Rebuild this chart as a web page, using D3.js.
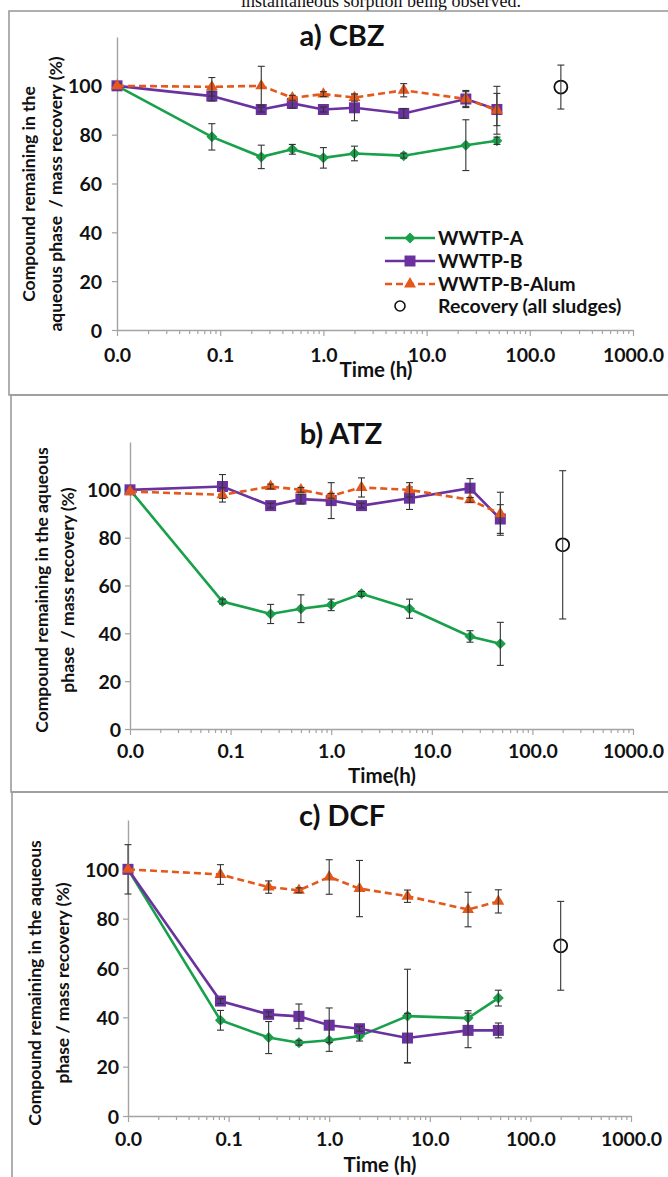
<!DOCTYPE html>
<html>
<head>
<meta charset="utf-8">
<script src="https://cdn.jsdelivr.net/npm/d3@7"></script>
<style>
  html, body { margin: 0; padding: 0; background: #fff; }
  svg { display: block; }
  text { font-family: Lato, "Open Sans", sans-serif; font-weight: bold; fill: #111; }
</style>
</head>
<body>
<script>
// ---------------- DATA ----------------
const times = [0.01, 0.083, 0.25, 0.5, 1, 2, 6, 24, 48];   // time 0 plotted at 0.01 on the log axis
const recoveryTime = [200];
const xTickValues = [0.01, 0.1, 1, 10, 100, 1000];
const yTickValues = [0, 20, 40, 60, 80, 100];
const seriesNames = ["WWTP-A", "WWTP-B", "WWTP-B-Alum"];
const recoveryName = "Recovery (all sludges)";

// a) CBZ
const cbzA        = [100, 79.1, 70.9, 74.0, 70.5, 72.3, 71.4, 75.7, 77.5];
const cbzAErr     = [0, 5.4, 4.8, 2.0, 4.2, 3.0, 1.0, 10.4, 1.5];
const cbzB        = [100, 95.8, 90.3, 92.8, 90.3, 91.0, 88.7, 94.6, 90.3];
const cbzBErr     = [1, 2, 1, 2, 1, 5.3, 2, 3.5, 6.6];
const cbzAlum     = [100, 99.6, 100, 95.1, 96.6, 95.2, 98.2, 94.6, 90.0];
const cbzAlumErr  = [0, 3.8, 8, 1, 1, 1.5, 2.7, 3, 9.8];
const cbzRec      = [99.5];
const cbzRecErr   = [9];

// b) ATZ
const atzA        = [100, 53.3, 48.1, 50.3, 51.9, 56.5, 50.3, 38.7, 35.6];
const atzAErr     = [0, 1, 4, 5.8, 2.4, 1, 4, 2.4, 9];
const atzB        = [100, 101.4, 93.4, 96.1, 95.5, 93.4, 96.5, 100.7, 87.8];
const atzBErr     = [0, 5, 1, 2, 7.5, 1, 4.7, 4, 6];
const atzAlum     = [99.3, 97.9, 101.4, 100, 97.5, 101, 100, 95.8, 90.0];
const atzAlumErr  = [0, 3, 1, 1, 1, 4, 3, 1, 9];
const atzRec      = [77];
const atzRecErr   = [31];

// c) DCF
const dcfA        = [100, 38.8, 31.8, 29.7, 30.7, 32.4, 40.5, 39.7, 47.8];
const dcfAErr     = [10, 4, 6.5, 1, 4.5, 2, 19, 3, 3.2];
const dcfB        = [100, 46.6, 41.2, 40.4, 36.8, 35.4, 31.6, 34.7, 34.7];
const dcfBErr     = [0, 1, 1, 5, 7, 1, 10, 7, 3];
const dcfAlum     = [100, 97.9, 92.8, 91.5, 96.9, 92.2, 89.1, 83.7, 87.0];
const dcfAlumErr  = [0, 4, 2.5, 1, 7, 11.4, 2.5, 7, 4.7];
const dcfRec      = [69];
const dcfRecErr   = [18];

// ---------------- LAYOUT / STYLE ----------------
const W = 668, H = 1177;
const colors = ["#18a04a", "#6a329f", "#e4591b"];
const axisColor = "#a3a3a3";
const errColor = "#333";

const panels = [
  { title: "a) CBZ", titleX: 342, titleY: 46,
    yLab: ["Compound remaining in the", "aqueous phase  / mass recovery (%)"], yLabX: [29, 56], yLabY: 194,
    xTitle: "Time (h)", xTitleX: 376, xTitleY: 377,
    box: [9, 11, 395], left: 117, right: 633, top: 37, bottom: 330, yLabelGap: 15, xLabelY: 362,
    data: [[cbzA, cbzAErr], [cbzB, cbzBErr], [cbzAlum, cbzAlumErr]], rec: [cbzRec, cbzRecErr], legend: true },
  { title: "b) ATZ", titleX: 341, titleY: 444,
    yLab: ["Compound remaining in the aqueous", "phase  / mass recovery (%)"], yLabX: [42, 68], yLabY: 590,
    xTitle: "Time(h)", xTitleX: 382, xTitleY: 783,
    box: [11, 395, 792], left: 130, right: 633, top: 442, bottom: 729, yLabelGap: 9, xLabelY: 758,
    data: [[atzA, atzAErr], [atzB, atzBErr], [atzAlum, atzAlumErr]], rec: [atzRec, atzRecErr], legend: false },
  { title: "c) DCF", titleX: 342, titleY: 826,
    yLab: ["Compound remaining in the aqueous", "phase / mass recovery (%)"], yLabX: [35, 63], yLabY: 983,
    xTitle: "Time (h)", xTitleX: 380, xTitleY: 1172,
    box: [12, 792, 1200], left: 128, right: 631, top: 820, bottom: 1116, yLabelGap: 9, xLabelY: 1146,
    data: [[dcfA, dcfAErr], [dcfB, dcfBErr], [dcfAlum, dcfAlumErr]], rec: [dcfRec, dcfRecErr], legend: false }
];

const svg = d3.select("body").append("svg").attr("width", W).attr("height", H);

// caption fragment at top
svg.append("text").attr("x", 381).attr("y", 7).attr("text-anchor", "middle")
  .style("font-family", "'Liberation Serif', 'Times New Roman', serif").style("font-weight", "normal")
  .style("font-size", "18px").text("instantaneous sorption being observed.");

// panel frames
panels.forEach(p => {
  svg.append("rect").attr("x", p.box[0]).attr("y", p.box[1])
    .attr("width", W + 20 - p.box[0]).attr("height", p.box[2] - p.box[1])
    .attr("fill", "none").attr("stroke", "#9c9c9c").attr("stroke-width", 1.6);
});

function markerPath(i) {
  if (i === 0) { const r = 5.5; return `M0,${-r}L${r},0L0,${r}L${-r},0Z`; }
  if (i === 1) { const s = 5.5; return `M${-s},${-s}H${s}V${s}H${-s}Z`; }
  return d3.symbol().type(d3.symbolTriangle).size(62)();
}

panels.forEach(p => {
  const g = svg.append("g");
  const x = d3.scaleLog().domain([0.01, 1000]).range([p.left, p.right]);
  const y = d3.scaleLinear().domain([0, 120]).range([p.bottom, p.top]);

  // minor ticks on x
  const minor = [];
  for (let e = -2; e < 3; e++) for (let m = 2; m <= 9; m++) minor.push(m * Math.pow(10, e));
  const xAxis = g.append("g").attr("transform", `translate(0,${p.bottom})`)
    .call(d3.axisBottom(x).tickValues(minor).tickSize(4).tickFormat(""));
  xAxis.select(".domain").remove();
  xAxis.selectAll("line").attr("stroke", axisColor).attr("stroke-width", 1.2);
  const xMajor = g.append("g").attr("transform", `translate(0,${p.bottom})`)
    .call(d3.axisBottom(x).tickValues(xTickValues).tickSize(6).tickSizeOuter(0)
      .tickFormat(d3.format(".1f")));
  xMajor.select(".domain").attr("stroke", axisColor).attr("stroke-width", 1.4);
  xMajor.selectAll("line").attr("stroke", axisColor).attr("stroke-width", 1.2);
  xMajor.selectAll("text").attr("y", p.xLabelY - p.bottom).attr("dy", 0)
    .style("font-size", "19.5px").style("fill", "#111");

  const yAxis = g.append("g").attr("transform", `translate(${p.left},0)`)
    .call(d3.axisLeft(y).tickValues(yTickValues).tickSize(5).tickSizeOuter(0).tickPadding(p.yLabelGap - 5));
  yAxis.select(".domain").attr("stroke", axisColor).attr("stroke-width", 1.4);
  yAxis.selectAll("line").attr("stroke", axisColor).attr("stroke-width", 1.2);
  yAxis.selectAll("text").attr("dy", "0.36em").style("font-size", "19.5px").style("fill", "#111");

  // titles
  g.append("text").attr("x", p.titleX).attr("y", p.titleY).attr("text-anchor", "middle")
    .style("font-size", "29px").text(p.title);
  g.append("text").attr("x", p.xTitleX).attr("y", p.xTitleY).attr("text-anchor", "middle")
    .style("font-size", "20.5px").style("white-space", "pre").text(p.xTitle);
  p.yLab.forEach((t, i) => {
    g.append("text").attr("transform", `translate(${p.yLabX[i]},${p.yLabY}) rotate(-90)`)
      .attr("text-anchor", "middle").attr("dy", "0.35em")
      .style("font-size", "17.5px").style("white-space", "pre").text(t);
  });

  // series
  p.data.forEach((sd, si) => {
    const vals = sd[0], errs = sd[1];
    const pts = times.map((t, i) => ({ t, v: vals[i], e: errs[i] }));
    g.append("path").datum(pts)
      .attr("d", d3.line().x(d => x(d.t)).y(d => y(d.v)))
      .attr("fill", "none").attr("stroke", colors[si]).attr("stroke-width", 2.6)
      .attr("stroke-dasharray", si === 2 ? "7,4" : null);
    g.selectAll(null).data(pts).join("path")
      .attr("transform", d => `translate(${x(d.t)},${y(d.v)})`)
      .attr("d", markerPath(si)).attr("fill", colors[si]);
    const eb = g.selectAll(null).data(pts.filter(d => d.e > 0)).join("g");
    eb.append("line").attr("x1", d => x(d.t)).attr("x2", d => x(d.t))
      .attr("y1", d => y(d.v - d.e)).attr("y2", d => y(d.v + d.e));
    eb.append("line").attr("x1", d => x(d.t) - 3.5).attr("x2", d => x(d.t) + 3.5)
      .attr("y1", d => y(d.v - d.e)).attr("y2", d => y(d.v - d.e));
    eb.append("line").attr("x1", d => x(d.t) - 3.5).attr("x2", d => x(d.t) + 3.5)
      .attr("y1", d => y(d.v + d.e)).attr("y2", d => y(d.v + d.e));
    eb.selectAll("line").attr("stroke", errColor).attr("stroke-width", 1.1);
  });

  // recovery
  const rec = recoveryTime.map((t, i) => ({ t, v: p.rec[0][i], e: p.rec[1][i] }));
  rec.forEach(d => {
    g.append("circle").attr("cx", x(d.t)).attr("cy", y(d.v)).attr("r", 6.5)
      .attr("fill", "none").attr("stroke", "#111").attr("stroke-width", 1.8);
    [[y(d.v - d.e), y(d.v + d.e)]].forEach(([a, b]) => {
      g.append("line").attr("x1", x(d.t)).attr("x2", x(d.t)).attr("y1", a).attr("y2", b)
        .attr("stroke", errColor).attr("stroke-width", 1.1);
      [a, b].forEach(yy => g.append("line").attr("x1", x(d.t) - 3.5).attr("x2", x(d.t) + 3.5)
        .attr("y1", yy).attr("y2", yy).attr("stroke", errColor).attr("stroke-width", 1.1));
    });
  });

  // legend
  if (p.legend) {
    const lx0 = 385, lx1 = 435, tx = 438, rows = [238, 261, 284, 306];
    seriesNames.forEach((n, i) => {
      g.append("line").attr("x1", lx0).attr("x2", lx1).attr("y1", rows[i]).attr("y2", rows[i])
        .attr("stroke", colors[i]).attr("stroke-width", 2.6)
        .attr("stroke-dasharray", i === 2 ? "7,4" : null);
      g.append("path").attr("transform", `translate(${(lx0 + lx1) / 2},${rows[i]})`)
        .attr("d", markerPath(i)).attr("fill", colors[i]);
      g.append("text").attr("x", tx).attr("y", rows[i]).attr("dy", "0.36em")
        .style("font-size", "19.5px").text(n);
    });
    g.append("circle").attr("cx", 400).attr("cy", rows[3]).attr("r", 5)
      .attr("fill", "none").attr("stroke", "#111").attr("stroke-width", 1.6);
    g.append("text").attr("x", tx).attr("y", rows[3]).attr("dy", "0.36em")
      .style("font-size", "19.5px").text(recoveryName);
  }
});
</script>
</body>
</html>
